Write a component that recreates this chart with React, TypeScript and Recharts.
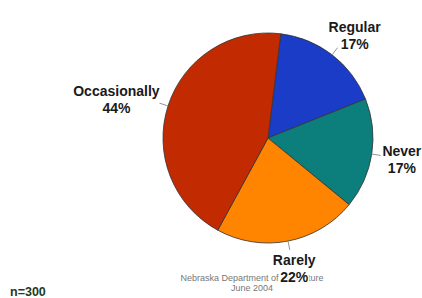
import { PieChart, Pie, Cell } from "recharts";

const categories = ["Regular", "Never", "Rarely", "Occasionally"];
const shares = [17, 17, 22, 44];
const sliceColors = ["#1a3cc6", "#0c7f7d", "#ff8400", "#c22a02"];
const sampleNote = "n=300";
const sourceLines = ["Nebraska Department of Agriculture", "June 2004"];

const data = categories.map((name, i) => ({ name, value: shares[i] }));

const RAD = Math.PI / 180;
const LABEL_FONT = "bold 14px 'Liberation Sans', Arial, sans-serif";

let measureCtx: CanvasRenderingContext2D | null = null;
const textWidth = (s: string) => {
  if (!measureCtx) measureCtx = document.createElement("canvas").getContext("2d");
  if (!measureCtx) return s.length * 7.5;
  measureCtx.font = LABEL_FONT;
  return measureCtx.measureText(s).width;
};

const renderLabel = (props: any) => {
  const { cx, cy, midAngle, outerRadius, name, value } = props;
  const ux = Math.cos(-midAngle * RAD);
  const uy = Math.sin(-midAngle * RAD);
  const pct = `${value}%`;
  const halfW = Math.max(textWidth(name), textWidth(pct)) / 2;
  const halfH = 15;
  const px = cx + (outerRadius + 11) * ux;
  const py = cy + (outerRadius + 11) * uy;
  const tx = px + halfW * ux;
  const ty = py + halfH * uy;
  return (
    <g>
      <line
        x1={cx + outerRadius * ux}
        y1={cy + outerRadius * uy}
        x2={cx + (outerRadius + 9) * ux}
        y2={cy + (outerRadius + 9) * uy}
        stroke="#8a9a9a"
        strokeWidth={1}
      />
      <text
        x={tx}
        y={ty}
        textAnchor="middle"
        fill="#1a1a1a"
        stroke="#ffffff"
        strokeWidth={3}
        paintOrder="stroke"
        style={{ font: LABEL_FONT }}
      >
        <tspan x={tx} dy={-2}>{name}</tspan>
        <tspan x={tx} dy={17}>{pct}</tspan>
      </text>
    </g>
  );
};

export default function App() {
  return (
    <div
      style={{
        position: "absolute",
        left: 0,
        top: 0,
        width: 422,
        height: 298,
        background: "#ffffff",
        fontFamily: "'Liberation Sans', Arial, sans-serif",
      }}
    >
      <div
        style={{
          position: "absolute",
          left: 152,
          top: 273,
          width: 200,
          textAlign: "center",
          fontSize: 9,
          lineHeight: "10px",
          color: "#777777",
        }}
      >
        {sourceLines.map((l) => (
          <div key={l}>{l}</div>
        ))}
      </div>
      <div
        style={{
          position: "absolute",
          left: 10,
          top: 285,
          fontSize: 12.5,
          fontWeight: "bold",
          color: "#1f3a20",
        }}
      >
        {sampleNote}
      </div>
      <div style={{ position: "absolute", left: 0, top: 0 }}>
        <PieChart width={422} height={298} margin={{ top: 0, right: 0, bottom: 0, left: 0 }}>
          <Pie
            data={data}
            dataKey="value"
            nameKey="name"
            cx={268}
            cy={138}
            outerRadius={105}
            startAngle={83}
            endAngle={-277}
            stroke="#333333"
            strokeWidth={0.8}
            label={renderLabel}
            labelLine={false}
            isAnimationActive={false}
          >
            {data.map((d, i) => (
              <Cell key={d.name} fill={sliceColors[i]} />
            ))}
          </Pie>
        </PieChart>
      </div>
    </div>
  );
}
